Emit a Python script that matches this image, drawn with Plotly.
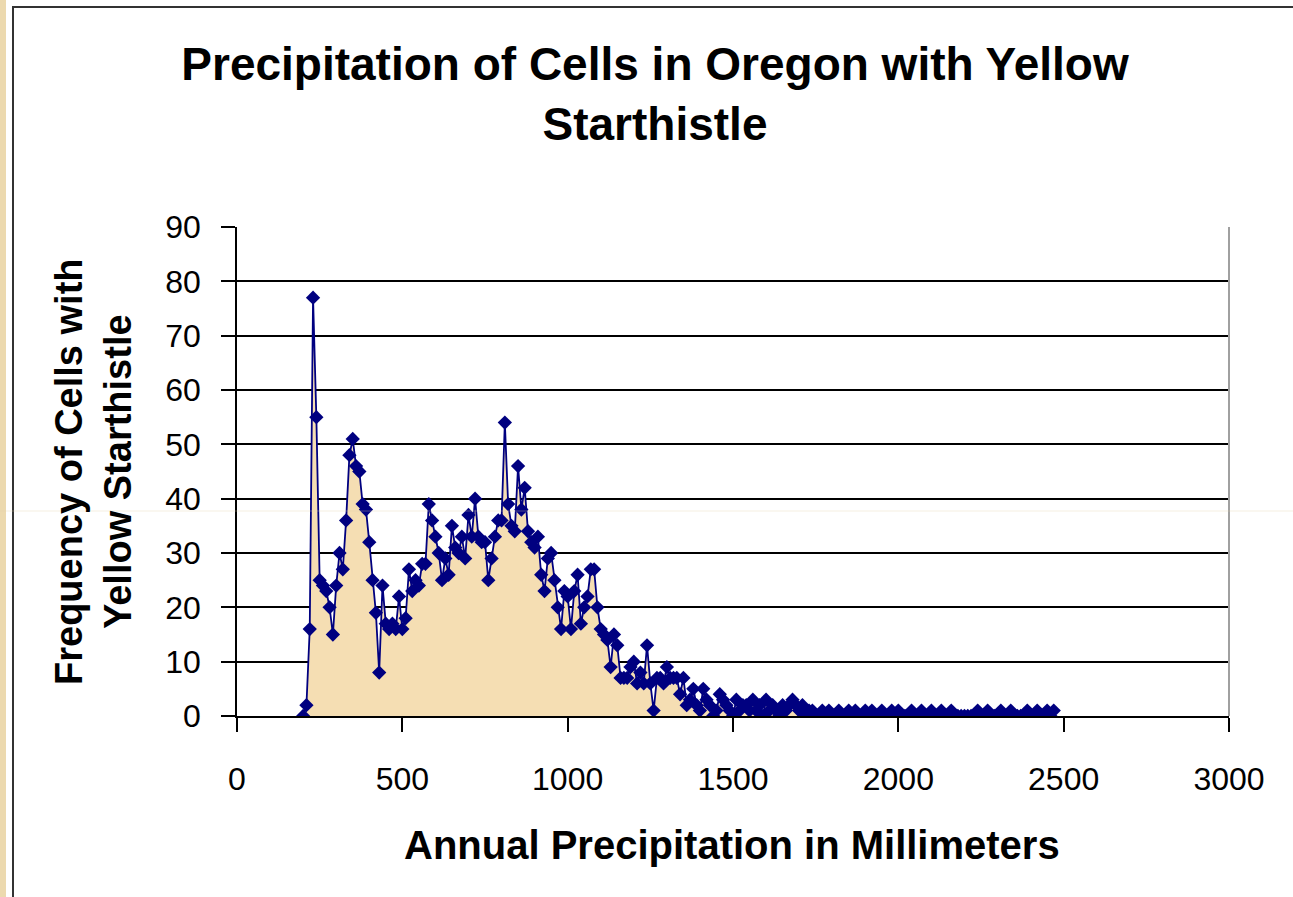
import plotly.graph_objects as go

# precipitation bins (mm), 10 mm apart
precip_mm = list(range(200, 2480, 10))

# frequency of cells with yellow starthistle
freq = [
    # 200-290
    0, 2, 16, 77, 55, 25, 24, 23, 20, 15,
    # 300-390
    24, 30, 27, 36, 48, 51, 46, 45, 39, 38,
    # 400-490
    32, 25, 19, 8, 24, 17, 16, 17, 16, 22,
    # 500-590
    16, 18, 27, 23, 25, 24, 28, 28, 39, 36,
    # 600-690
    33, 30, 25, 29, 26, 35, 31, 30, 33, 29,
    # 700-790
    37, 33, 40, 33, 32, 32, 25, 29, 33, 36,
    # 800-890
    36, 54, 39, 35, 34, 46, 38, 42, 34, 32,
    # 900-990
    31, 33, 26, 23, 29, 30, 25, 20, 16, 23,
    # 1000-1090
    22, 16, 23, 26, 17, 20, 22, 27, 27, 20,
    # 1100-1190
    16, 15, 14, 9, 15, 13, 7, 7, 7, 9,
    # 1200-1290
    10, 6, 8, 6, 13, 6, 1, 7, 7, 6,
    # 1300-1390
    9, 7, 7, 7, 4, 7, 2, 3, 5, 2,
    # 1400-1490
    1, 5, 3, 2, 0, 1, 4, 3, 2, 1,
    # 1500-1590
    0, 3, 1, 2, 2, 1, 3, 1, 2, 0,
    # 1600-1690
    3, 1, 2, 1, 0, 2, 1, 2, 3, 2,
    # 1700-1790
    1, 2, 0, 1, 1, 0, 0, 1, 0, 1,
    # 1800-1890
    0, 0, 1, 0, 0, 1, 0, 1, 0, 0,
    # 1900-1990
    1, 0, 1, 0, 0, 1, 0, 0, 1, 0,
    # 2000-2090
    1, 0, 0, 0, 1, 0, 0, 1, 0, 0,
    # 2100-2190
    1, 0, 0, 1, 0, 0, 1, 0, 0, 0,
    # 2200-2290
    0, 0, 0, 0, 1, 0, 0, 1, 0, 0,
    # 2300-2390
    0, 1, 0, 0, 1, 0, 0, 0, 0, 1,
    # 2400-2470
    0, 0, 1, 0, 0, 1, 0, 1,
]

x_ticks = [0, 500, 1000, 1500, 2000, 2500, 3000]
y_ticks = list(range(0, 100, 10))

W, H = 1293, 897
L, R, T, B = 237, 64, 227, 181
PW, PH = W - L - R, H - T - B


def px_x(p):
    return (p - L) / PW


def px_y(p):
    return (H - B - p) / PH


NAVY = "#000080"
FONT = "Liberation Sans, Arial, sans-serif"

fig = go.Figure()

fig.add_trace(go.Scatter(
    x=precip_mm, y=freq,
    mode="lines+markers",
    line=dict(color=NAVY, width=1.8),
    marker=dict(symbol="diamond", size=11, color=NAVY),
    fill="tozeroy",
    fillcolor="#F5DEB3",
    showlegend=False,
))

fig.update_layout(
    width=W, height=H, autosize=False,
    margin=dict(l=L, r=R, t=T, b=B),
    paper_bgcolor="white", plot_bgcolor="white",
    font=dict(family=FONT, color="black"),
    title=dict(
        text="<b>Precipitation of Cells in Oregon with Yellow<br>Starthistle</b>",
        font=dict(size=46, family=FONT, color="black"),
        x=655 / W, xanchor="center", xref="container",
        y=1 - 80 / H, yanchor="middle", yref="container",
    ),
)

fig.update_xaxes(
    range=[0, 3000], tickvals=x_ticks,
    showgrid=False, zeroline=False,
    showline=True, linecolor="black", linewidth=1.5,
    ticks="outside", ticklen=14, tickwidth=1.5, tickcolor="black",
    ticklabelstandoff=20,
    tickfont=dict(size=32, family=FONT, color="black"),
)
fig.update_yaxes(
    range=[0, 90], tickvals=y_ticks,
    showgrid=True, gridcolor="black", gridwidth=1.6,
    zeroline=False,
    showline=True, linecolor="black", linewidth=1.5,
    ticks="outside", ticklen=14, tickwidth=1.5, tickcolor="black",
    ticklabelstandoff=14,
    tickfont=dict(size=32, family=FONT, color="black"),
)

# axis titles
fig.add_annotation(
    text="<b>Annual Precipitation in Millimeters</b>",
    xref="paper", yref="paper", x=px_x(732), y=px_y(845),
    xanchor="center", yanchor="middle", showarrow=False,
    font=dict(size=40, family=FONT, color="black"),
)
fig.add_annotation(
    text="<b>Frequency of Cells with<br>Yellow Starthistle</b>",
    xref="paper", yref="paper", x=px_x(93), y=px_y(472),
    xanchor="center", yanchor="middle", showarrow=False, textangle=-90,
    font=dict(size=38, family=FONT, color="black"),
)

# right border of the plot area, chart frame and slide edge
fig.add_shape(type="line", xref="paper", yref="paper",
              x0=1, x1=1, y0=0, y1=1, line=dict(color="#A0A0A0", width=2))
fig.add_shape(type="rect", xref="paper", yref="paper",
              x0=px_x(13), x1=px_x(W + 20), y0=px_y(H + 20), y1=px_y(7),
              line=dict(color="#333333", width=2), layer="below")
fig.add_shape(type="rect", xref="paper", yref="paper",
              x0=px_x(0), x1=px_x(6), y0=px_y(H), y1=px_y(0),
              fillcolor="#ECD9AE", line=dict(width=0), layer="below")
fig.add_shape(type="line", xref="paper", yref="paper",
              x0=px_x(0), x1=px_x(W), y0=px_y(511), y1=px_y(511),
              line=dict(color="rgba(225,210,170,0.35)", width=1))

fig.write_html("out.html", config={"displayModeBar": False},
               post_script="document.body.style.margin='0';")
